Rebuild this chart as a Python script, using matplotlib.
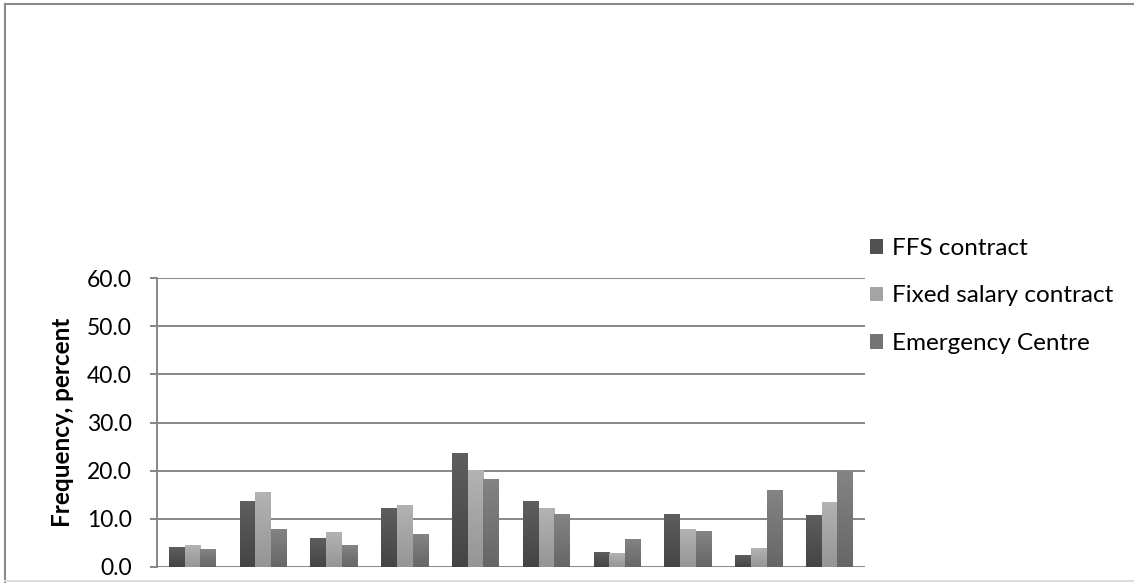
import numpy as np
import matplotlib
matplotlib.use("Agg")
import matplotlib.pyplot as plt
from matplotlib.colors import LinearSegmentedColormap
from matplotlib.lines import Line2D

plt.rcParams['font.family'] = ['Lato', 'DejaVu Sans']

categories = [str(i) for i in range(1, 11)]
series_names = ["FFS contract", "Fixed salary contract", "Emergency Centre"]
ffs = [4.0, 13.7, 6.0, 12.1, 23.7, 13.7, 3.1, 11.0, 2.4, 10.8]
fixed = [4.5, 15.5, 7.2, 12.8, 20.0, 12.2, 2.9, 7.8, 3.9, 13.5]
emergency = [3.7, 7.9, 4.5, 6.7, 18.1, 11.0, 5.8, 7.4, 16.0, 19.8]
y_ticks = [0, 10, 20, 30, 40, 50, 60]
y_ticklabels = ["0.0", "10.0", "20.0", "30.0", "40.0", "50.0", "60.0"]

values = [ffs, fixed, emergency]
mid_colors = ["#505050", "#a4a4a4", "#747474"]
top_colors = ["#5e5e5e", "#b3b3b3", "#848484"]
bot_colors = ["#444444", "#959595", "#666666"]

W, H = 1134, 583
fig = plt.figure(figsize=(W / 100, H / 100), dpi=100)
ax = fig.add_axes([157 / W, 1 - 566.7 / H, (865 - 157) / W, (566.7 - 278.3) / H])

x = np.arange(len(categories))
bw = 1 / 4.5
offsets = [-bw, 0, bw]
grad = np.linspace(0, 1, 256).reshape(-1, 1)
for vals, off, name, mc, tc, bc in zip(values, offsets, series_names, mid_colors, top_colors, bot_colors):
    bars = ax.bar(x + off, vals, width=bw, color=mc, label=name, zorder=3, linewidth=0)
    cmap = LinearSegmentedColormap.from_list("g", [bc, tc])
    for b in bars:
        x0, w, h = b.get_x(), b.get_width(), b.get_height()
        ax.imshow(grad, extent=[x0, x0 + w, 0, h], origin="lower", aspect="auto",
                  cmap=cmap, zorder=4, interpolation="bilinear")

ax.set_xlim(-0.5, len(categories) - 0.5)
ax.set_ylim(0, 60)
ax.set_yticks(y_ticks)
ax.set_yticklabels(y_ticklabels, fontsize=16.5)
ax.set_xticks([])
ax.grid(axis="y", color="#878787", linewidth=1.4, zorder=1)
ax.tick_params(axis="y", length=5, width=1.4, color="#878787", pad=13)
for s in ["top", "right", "bottom"]:
    ax.spines[s].set_visible(False)
ax.spines["left"].set_color("#878787")
ax.spines["left"].set_linewidth(1.4)

ax.set_ylabel("Frequency, percent", fontsize=17.5, fontweight="bold", va="center")
ax.yaxis.set_label_coords((62 - 157) / (865 - 157), 0.5)

ax.legend(loc="upper left", bbox_to_anchor=(870 / W, 1 - 238 / H),
          bbox_transform=fig.transFigure, frameon=False, fontsize=17.5,
          handlelength=0.55, handleheight=0.55, handletextpad=0.37,
          labelspacing=1.09, borderpad=0, borderaxespad=0)

fig.add_artist(Line2D([4.5 / W, 4.5 / W], [0, 1 - 3.5 / H], transform=fig.transFigure, color="#8a8a8a", lw=1.5))
fig.add_artist(Line2D([4.5 / W, 1], [1 - 3.5 / H, 1 - 3.5 / H], transform=fig.transFigure, color="#8a8a8a", lw=1.5))
fig.add_artist(Line2D([4.5 / W, 1], [1 - 581 / H, 1 - 581 / H], transform=fig.transFigure, color="#dddddd", lw=1.5))

fig.savefig("out.png", dpi=100)
